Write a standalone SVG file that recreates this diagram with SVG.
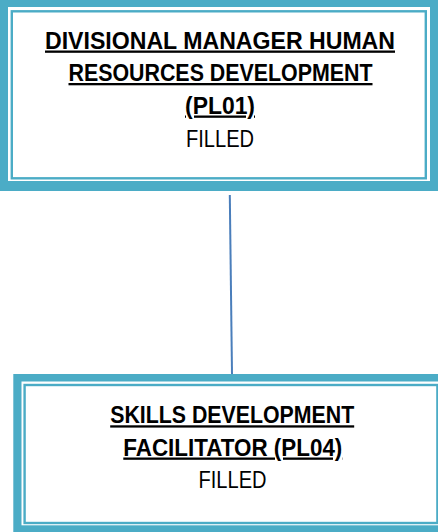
<svg xmlns="http://www.w3.org/2000/svg" width="438" height="532" viewBox="0 0 438 532">
<defs>
<style>
.band{fill:#4BACC6;}
.gap{fill:#ffffff;}
.thin{fill:#ffffff;stroke:#4BACC6;stroke-width:2.4;}
.t{font-family:"Liberation Sans",Arial,sans-serif;font-size:23px;fill:#000;text-anchor:middle;}
.b{font-weight:bold;text-decoration:underline;}
.conn{stroke:#4A7EBB;stroke-width:2;fill:none;}
</style>
</defs>
<rect width="438" height="532" fill="#ffffff"/>
<g id="connectors">
<line class="conn" x1="229.8" y1="195" x2="232" y2="374"/>
</g>
<g id="node-pl01">
<rect class="band" x="0" y="0" width="438" height="191"/>
<rect class="gap" x="8" y="7" width="422" height="174"/>
<rect class="thin" x="11.8" y="11.3" width="414" height="167"/>
<text class="t b" x="220" y="48.5" textLength="350" lengthAdjust="spacingAndGlyphs">DIVISIONAL MANAGER HUMAN</text>
<text class="t b" x="220.5" y="81" textLength="304" lengthAdjust="spacingAndGlyphs">RESOURCES DEVELOPMENT</text>
<text class="t b" x="220" y="113.5" textLength="70" lengthAdjust="spacingAndGlyphs">(PL01)</text>
<text class="t" x="220" y="146.7" textLength="68" lengthAdjust="spacingAndGlyphs">FILLED</text>
</g>
<g id="node-pl04">
<rect class="band" x="13.3" y="374" width="440" height="170"/>
<rect class="gap" x="21.5" y="381.5" width="430" height="143.8"/>
<rect class="thin" x="24.6" y="385" width="412.8" height="138"/>
<text class="t b" x="232.2" y="423.3" textLength="244" lengthAdjust="spacingAndGlyphs">SKILLS DEVELOPMENT</text>
<text class="t b" x="232.8" y="455.5" textLength="219" lengthAdjust="spacingAndGlyphs">FACILITATOR (PL04)</text>
<text class="t" x="232.5" y="487.7" textLength="68" lengthAdjust="spacingAndGlyphs">FILLED</text>
</g>
</svg>
